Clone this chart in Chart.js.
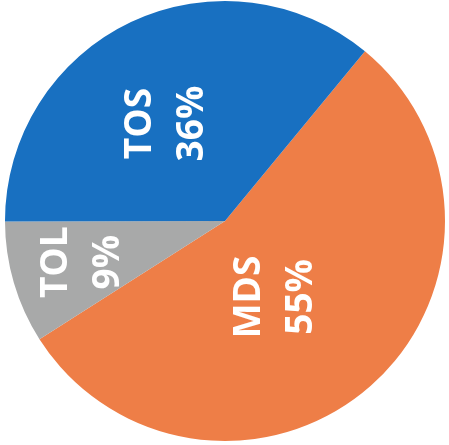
<!DOCTYPE html>
<html>
<head>
<meta charset="utf-8">
<script src="https://cdn.jsdelivr.net/npm/chart.js@4/dist/chart.umd.min.js"></script>
<style>
  html, body { margin: 0; padding: 0; background: #ffffff; }
  #wrap { width: 449px; height: 445px; }
</style>
</head>
<body>
<div id="wrap"><canvas id="c" width="449" height="445"></canvas></div>
<script>
const categories = ["MDS", "TOL", "TOS"];
const shares = [55, 9, 36];
const percentLabels = ["55%", "9%", "36%"];

const sliceColors = ["#ee7e47", "#a8a9a9", "#1870c1"];
// label placement: angle offset (deg) from slice mid-angle, radius fraction
const labelPlacement = [
  { dAngle: 7.8, rFrac: 0.415 },
  { dAngle: 0.2, rFrac: 0.675 },
  { dAngle: -5.8, rFrac: 0.517 }
];

const rotatedLabels = {
  id: 'rotatedLabels',
  afterDatasetsDraw(chart) {
    const ctx = chart.ctx;
    const meta = chart.getDatasetMeta(0);
    meta.data.forEach((arc, i) => {
      const p = arc.getProps(['x', 'y', 'startAngle', 'endAngle', 'outerRadius'], true);
      const mid = (p.startAngle + p.endAngle) / 2 + labelPlacement[i].dAngle * Math.PI / 180;
      const r = p.outerRadius * labelPlacement[i].rFrac;
      const cx = p.x + Math.cos(mid) * r;
      const cy = p.y + Math.sin(mid) * r;
      ctx.save();
      ctx.translate(cx, cy);
      ctx.rotate(-Math.PI / 2);
      ctx.fillStyle = '#ffffff';
      ctx.font = 'bold 37px "Open Sans", sans-serif';
      ctx.textAlign = 'center';
      ctx.textBaseline = 'middle';
      const gap = 52;
      ctx.fillText(categories[i], 0, -gap / 2);
      ctx.fillText(percentLabels[i], 0, gap / 2);
      ctx.restore();
    });
  }
};

new Chart(document.getElementById('c'), {
  type: 'pie',
  data: {
    labels: categories,
    datasets: [{
      data: shares,
      backgroundColor: sliceColors,
      borderWidth: 0
    }]
  },
  options: {
    responsive: false,
    animation: false,
    rotation: 39.5,
    layout: { padding: { left: 5, right: 4, top: 1, bottom: 4 } },
    plugins: {
      legend: { display: false },
      tooltip: { enabled: false }
    }
  },
  plugins: [rotatedLabels]
});
</script>
</body>
</html>
